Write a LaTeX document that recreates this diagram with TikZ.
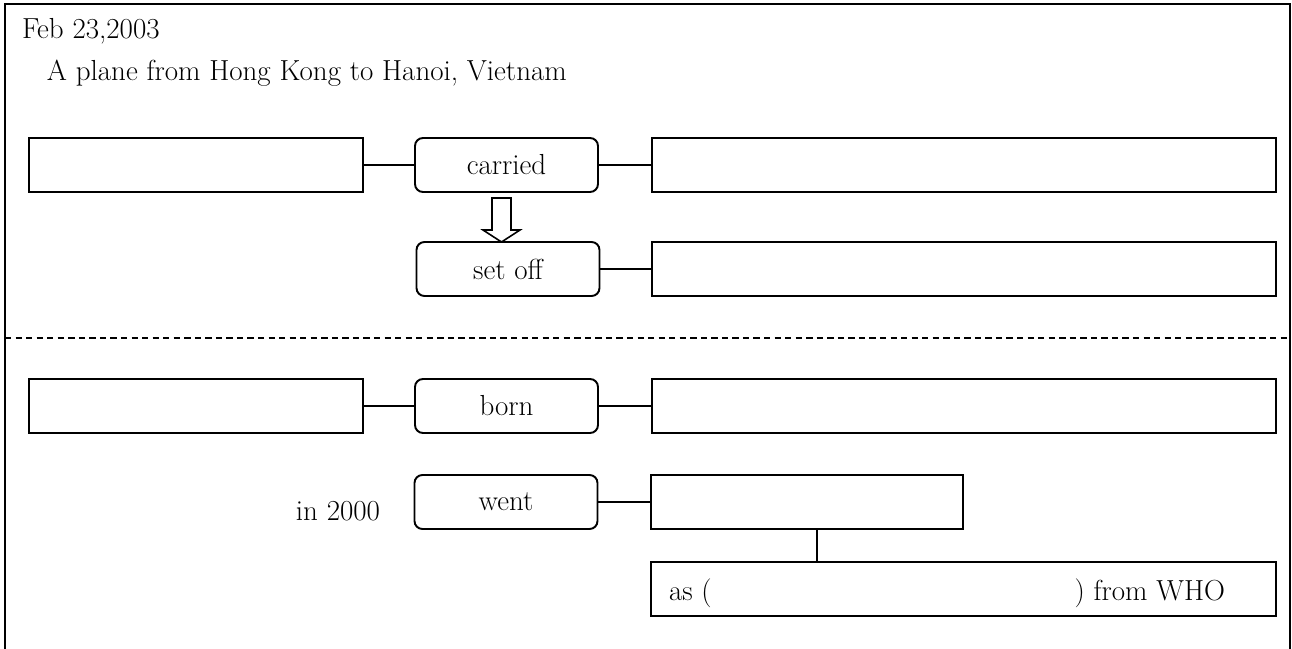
\documentclass[tikz,border=0pt]{standalone}
\usepackage{tikz}
\usetikzlibrary{calc}
\begin{document}
\begin{tikzpicture}[x=0.02cm,y=-0.02cm,
  txt/.style={font=\fontsize{16.5}{19}\selectfont, inner sep=0pt, outer sep=0pt},
  blank/.style={draw, line width=1.1pt, inner sep=0pt, outer sep=0pt, minimum height=1.08cm},
  verbbox/.style={blank, rounded corners=4.5pt, minimum width=3.66cm, font=\fontsize{16.5}{19}\selectfont},
  link/.style={line width=0.9pt},
  frame/.style={line width=1.5pt},
  divider/.style={line width=0.7pt, dash pattern=on 3.6pt off 2.4pt}]
\useasboundingbox (0,0) rectangle (1292,649);

% open frame (no bottom edge) and the dashed divider
\draw[frame] (5,649) -- (5,4) -- (1290,4) -- (1290,649);
\coordinate (dl) at (5,338);
\coordinate (dr) at (1290,338);
\draw[divider] (dl) -- (dr);

% heading lines
\node[txt, anchor=base west] (date) at (22,38) {Feb 23,2003};
\node[txt, anchor=base west] (title) at (47,80) {A plane from Hong Kong to Hanoi, Vietnam};

% first event
\node[blank, minimum width=6.68cm] (L1) at (196,165) {};
\node[verbbox] (carried) at (506.5,165) {carried};
\node[blank, minimum width=12.48cm] (R1) at (964,165) {};
\draw[link] (L1) -- (carried);
\draw[link] (carried) -- (R1);

% hollow block arrow between the two verbs
\draw[line width=0.9pt, line join=miter, fill=white]
  (492,198) -- (511,198) -- (511,230) -- (520,230) -- (501.5,242)
  -- (483,230) -- (492,230) -- cycle;

\node[verbbox] (setoff) at (508,269) {set off};
\node[blank, minimum width=12.48cm] (R2) at (964,269) {};
\draw[link] (setoff) -- (R2);

% second event
\node[blank, minimum width=6.68cm] (L3) at (196,406) {};
\node[verbbox] (born) at (506.5,406) {born};
\node[blank, minimum width=12.48cm] (R3) at (964,406) {};
\draw[link] (L3) -- (born);
\draw[link] (born) -- (R3);

\node[txt, anchor=base east] (year) at (380,520) {in 2000};
\node[verbbox] (went) at (506,502) {went};
\node[blank, minimum width=6.24cm] (R4) at (807,502) {};
\draw[link] (went) -- (R4);

\node[blank, minimum width=12.5cm] (B5) at (963.5,589) {};
\node[txt, anchor=base west] (as) at (669,600) {as (};
\node[txt, anchor=base east] (who) at (1225,600) {) from WHO};
\coordinate (vx) at (817,0);
\draw[link] (R4.south -| vx) -- (B5.north -| vx);
\end{tikzpicture}
\end{document}
